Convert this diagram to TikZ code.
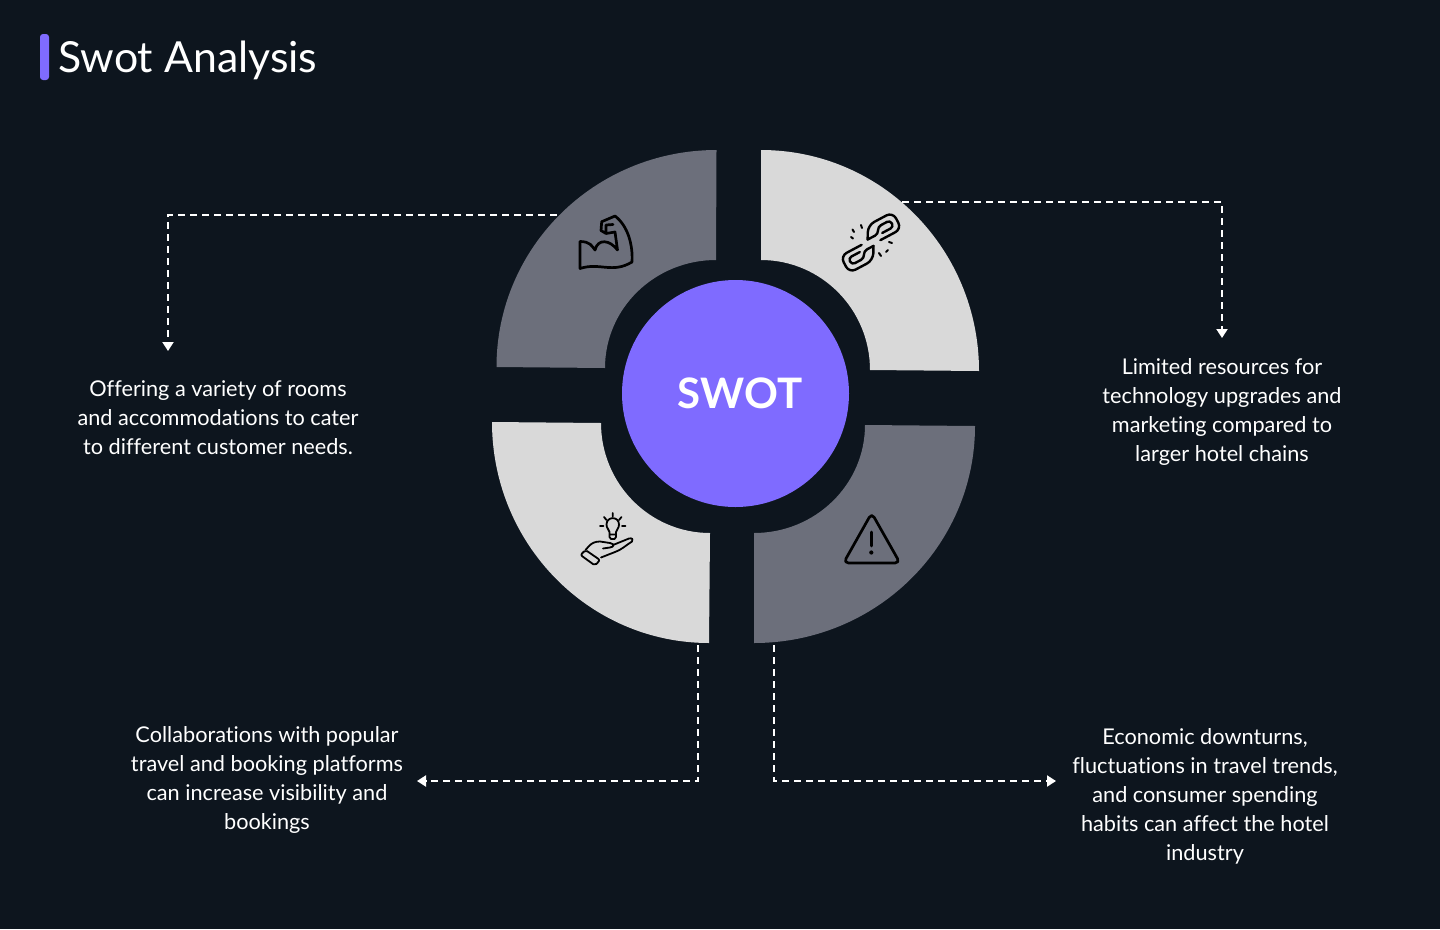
\documentclass[tikz,border=0pt]{standalone}
\usepackage{fontspec}
\setmainfont{Lato}[Ligatures=NoCommon]
\usepackage{xcolor}
\usetikzlibrary{arrows.meta,positioning}
\definecolor{pagebg}{HTML}{0D151E}
\definecolor{segdark}{HTML}{6C6F7B}
\definecolor{seglight}{HTML}{D9D9D9}
\definecolor{accent}{HTML}{7F6BFF}

\begin{document}
\begin{tikzpicture}[x=1pt,y=-1pt,
desc/.style={align=center,text=white,inner sep=0pt,font=\fontsize{21.7}{29}\selectfont},
link/.style={draw=white,dash pattern=on 7pt off 5pt,line width=2pt},
arrow/.style={link,-{Triangle[length=9pt,width=11pt]}},
icon/.style={draw=black,line width=2.7pt,line join=round,line cap=round},
thinicon/.style={icon,line width=1.8pt}]
\useasboundingbox (0,0) rectangle (1440,929);
\fill[pagebg] (0,0) rectangle (1440,929);

% title
\fill[accent,rounded corners=3pt] (40,34) rectangle (49,80);
\node[anchor=west,text=white,inner sep=0pt,font=\fontsize{42.8}{48}\selectfont] (title) at (58,60) {Swot Analysis};

% ring segments
\fill[segdark] (716.5,150) arc[start angle=90,end angle=180,x radius=220pt,y radius=217pt]
  -- (605,368) arc[start angle=180,end angle=90,x radius=111pt,y radius=108pt] -- cycle;
\fill[seglight] (761,150) arc[start angle=90,end angle=0,x radius=218pt,y radius=221pt]
  -- (870,370) arc[start angle=0,end angle=90,x radius=109pt,y radius=110pt] -- cycle;
\fill[seglight] (492,422) arc[start angle=180,end angle=270,x radius=217pt,y radius=221pt]
  -- (710,533) arc[start angle=270,end angle=180,x radius=109pt,y radius=110pt] -- cycle;
\fill[segdark] (975,426) arc[start angle=0,end angle=-90,x radius=221pt,y radius=217pt]
  -- (754,533) arc[start angle=-90,end angle=0,x radius=111pt,y radius=108pt] -- cycle;

\node[circle,fill=accent,minimum size=227pt,inner sep=0pt] (hub) at (735.5,393.5) {};
\node[text=white,inner sep=0pt,font=\fontsize{42}{46}\selectfont\bfseries] (swot) at (740,393.5) {SWOT};

% texts
\node[desc] (strength) at (218,417.5) {Offering a variety of rooms\\and accommodations to cater\\to different customer needs.};
\node[desc] (weakness) at (1222,411.5) {Limited resources for\\technology upgrades and\\marketing compared to\\larger hotel chains};
\node[desc] (opportunity) at (267,779.5) {Collaborations with popular\\travel and booking platforms\\can increase visibility and\\bookings};
\node[desc] (threat) at (1205,796.5) {Economic downturns,\\fluctuations in travel trends,\\and consumer spending\\habits can affect the hotel\\industry};

% connectors
\coordinate (strengthstart) at (557,215);
\coordinate (strengthend) at (168,351);
\coordinate (weaknessstart) at (902,202);
\coordinate (weaknessend) at (1222,338);
\coordinate (opportunitystart) at (698,645);
\coordinate (opportunityend) at (417,781);
\coordinate (threatstart) at (774,645);
\coordinate (threatend) at (1056,781);
\draw[arrow] (strengthstart) -| (strengthend);
\draw[arrow] (weaknessstart) -| (weaknessend);
\draw[arrow] (opportunitystart) |- (opportunityend);
\draw[arrow] (threatstart) |- (threatend);

% muscle icon
\draw[icon] (580,241.5) -- (580,268.5) .. controls (600,262) and (612,274) .. (632,262)
  .. controls (633,245) and (628,226) .. (615,216) -- (601.7,221.7) -- (601,230.5) -- (606,233.5)
  -- (606,225) -- (613,224.5) (606,233.5) -- (615,232) -- (617.5,250)
  .. controls (610,240) and (598,238) .. (595,250) .. controls (592,246) and (590,241.5) .. (580,241.5);

% broken chain icon
\begin{scope}[shift={(883,228)},rotate=28]
\draw[icon,line width=2.4pt,rounded corners=7pt] (-19,3) -- (-12,-9.5) -- (16,-9.5) -- (16,9.5) -- (-8,9.5);
\draw[icon,line width=2.4pt,rounded corners=3.5pt] (-19,3) -- (-7,3) -- (-4,-3.5) -- (10,-3.5) -- (10,4) -- (-3,4);
\end{scope}
\begin{scope}[shift={(859,257)},rotate=28]
\draw[icon,line width=2.4pt,rounded corners=7pt] (18,-3) -- (11,9.5) -- (-16,9.5) -- (-16,-9.5) -- (8,-9.5);
\draw[icon,line width=2.4pt,rounded corners=3.5pt] (18,-3) -- (7,-3) -- (4,3.5) -- (-10,3.5) -- (-10,-4) -- (3,-4);
\end{scope}
\draw[icon,line width=2pt] (851,237) -- (853,238.5) (852.5,229.5) -- (854,232) (861,225) -- (862,228)
  (889,242) -- (892,243) (886,252) -- (888,250) (879,253) -- (881,256);

% hand and bulb icon
\draw[thinicon] (609.5,532) .. controls (609,529) and (606.5,528.5) .. (606.5,524.5)
  .. controls (606.5,516) and (619,516) .. (619,524.5)
  .. controls (619,528.5) and (616.5,529) .. (616,532) -- (616,537) -- (614.5,539) -- (611,539) -- (609.5,537) -- cycle
  (609.5,534.5) -- (616,534.5);
\draw[thinicon] (612.7,513) -- (612.7,516.5) (604,517) -- (606.5,520) (621.5,517) -- (619,520)
  (600,526) -- (603.5,526) (622,526) -- (625.5,526);
\draw[thinicon,rounded corners=2pt] (580.5,555) -- (585.5,550) -- (600,560) -- (595,565.5) -- cycle;
\draw[thinicon] (585.5,550) -- (589,546) .. controls (592,543) and (595,541.5) .. (600,541.5) -- (610,543)
  .. controls (615,544) and (614,547) .. (610,547.5) -- (603,548.5)
  (613,545) -- (629,538.5) .. controls (632,537.5) and (634,540) .. (632,541.5)
  .. controls (625,546) and (621,550) .. (615,552) -- (601,557.5);

% warning icon
\draw[icon,rounded corners=5pt] (871.7,513) -- (900,563) -- (843.5,563) -- cycle;
\draw[icon] (871.3,532) -- (871.3,546);
\fill[black] (871.3,552.5) circle[radius=2.1pt];
\end{tikzpicture}
\end{document}
